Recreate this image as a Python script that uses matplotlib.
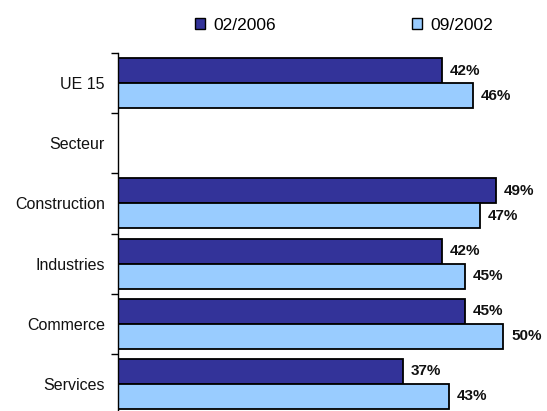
import matplotlib.pyplot as plt
import numpy as np
from matplotlib.patches import Patch

plt.rcParams["font.family"] = ["Liberation Sans", "DejaVu Sans"]

categories = ["UE 15", "Secteur", "Construction", "Industries", "Commerce", "Services"]
series_names = ["02/2006", "09/2002"]
values_2006 = [42, None, 49, 42, 45, 37]
values_2002 = [46, None, 47, 45, 50, 43]

DARK = "#333399"
LIGHT = "#99ccff"

fig = plt.figure(figsize=(5.47, 4.11), dpi=100)
ax = fig.add_axes([118 / 547, -3 / 411, 424 / 547, 361 / 411])

y = np.arange(len(categories))
h = 0.415

for i, (a, b) in enumerate(zip(values_2006, values_2002)):
    if a is not None:
        ax.barh(i - h / 2, a, height=h, color=DARK, edgecolor="black", linewidth=1.3)
        ax.text(a + 1.0, i - h / 2, f"{a}%", va="center", ha="left",
                fontsize=11, fontweight="bold", color="#111111")
    if b is not None:
        ax.barh(i + h / 2, b, height=h, color=LIGHT, edgecolor="black", linewidth=1.3)
        ax.text(b + 1.0, i + h / 2, f"{b}%", va="center", ha="left",
                fontsize=11, fontweight="bold", color="#111111")

ax.set_xlim(0, 55)
ax.set_ylim(len(categories) - 0.5, -0.5)
ax.set_yticks(y)
ax.set_yticklabels(categories, fontsize=11.5, color="#111111")
ax.tick_params(axis="y", which="major", length=0, pad=9.5)
ax.set_yticks(np.arange(-0.5, len(categories), 1), minor=True)
ax.tick_params(axis="y", which="minor", length=5, width=1, direction="out")
ax.set_xticks([])
for s in ["top", "right", "bottom"]:
    ax.spines[s].set_visible(False)
ax.spines["left"].set_linewidth(1)

handles = [Patch(facecolor=DARK, edgecolor="black", label=series_names[0]),
           Patch(facecolor=LIGHT, edgecolor="black", label=series_names[1])]
fig.legend(handles=handles, loc="center", bbox_to_anchor=(344 / 547, 1 - 25 / 411),
           ncol=2, frameon=False, fontsize=12.5, columnspacing=7.8,
           handlelength=0.6, handleheight=0.6, handletextpad=0.5)

fig.savefig("out.png", dpi=100)
